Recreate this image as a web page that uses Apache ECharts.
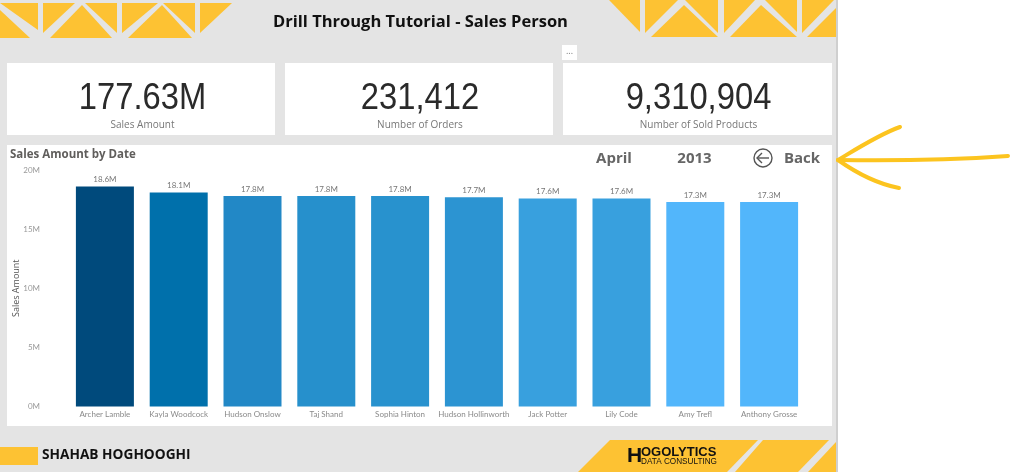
<!DOCTYPE html>
<html><head><meta charset="utf-8">
<style>html,body{margin:0;padding:0;background:#fff}#c{width:1024px;height:472px}</style>
<script src="https://cdn.jsdelivr.net/npm/echarts@6/dist/echarts.min.js"></script>
</head><body><div id="c"></div>
<script>
const categories = ['Archer Lamble','Kayla Woodcock','Hudson Onslow','Taj Shand','Sophia Hinton','Hudson Hollinworth','Jack Potter','Lily Code','Amy Trefl','Anthony Grosse'];
const salesAmount = [18.6e6,18.1e6,17.8e6,17.8e6,17.8e6,17.7e6,17.6e6,17.6e6,17.3e6,17.3e6];
const barColors = ['#004a7c','#0070ab','#2288c6','#2690cc','#2892ce','#2c94d2','#38a0de','#38a0de','#52b6fb','#52b6fb'];
const kpis = [['177.63M','Sales Amount',142.5],['231,412','Number of Orders',420],['9,310,904','Number of Sold Products',698.5]];

const Y='#fdc233', GR='#e4e4e4';
const topTris = [
 [[0,3],[38,3],[38,30]],[[0,10],[30,38],[0,38]],
 [[43,3],[75,3],[43,33]],[[50,38],[82,5],[112,38]],[[85,3],[117,3],[117,33]],
 [[122,3],[158,3],[122,33]],[[128,38],[162,5],[192,38]],[[163,3],[195,3],[195,33]],
 [[200,3],[232,3],[200,33]],
 [[609,0],[640,0],[640,32]],[[645,0],[678,0],[645,33]],[[651,37],[684,5],[718,37]],
 [[685,0],[718,0],[718,33]],[[724,0],[755,0],[724,33]],[[730,37],[761,5],[797,37]],
 [[765,0],[797,0],[797,32]],[[802,0],[834,0],[802,33]],[[807,37],[836,8],[836,37]],
 [[578,472],[610,440],[758,440],[727,472]],[[735,472],[763,440],[829,440],[798,472]],[[808,472],[836,442],[836,472]]
];
const g=[];
const rect=(x,y,w,h,fill)=>g.push({type:'rect',shape:{x,y,width:w,height:h},style:{fill},silent:true});
const text=(x,y,t,font,fill,align,sx)=>g.push({type:'text',x,y,scaleX:sx||1,style:{text:t,font,fill,align:align||'center',verticalAlign:'middle'},silent:true});
rect(0,0,836,472,GR); rect(836,0,2,472,'#cfcfcf');
topTris.forEach(p=>g.push({type:'polygon',shape:{points:p},style:{fill:Y},silent:true}));
rect(7,63,268,72,'#fff'); rect(285,63,268,72,'#fff'); rect(563,63,269,72,'#fff');
rect(7,145,825,281,'#fff'); rect(562,45,15,15,'#fff');
text(569.5,51,'...','9px "Open Sans"','#777');
kpis.forEach(k=>{text(k[2],98.5,k[0],'37px "Liberation Sans"','#2a2a2a','center',0.885);text(k[2],125,k[1],'10px "Open Sans"','#777');});
text(420.5,22,'Drill Through Tutorial - Sales Person','bold 16.5px "Open Sans"','#111');
text(10,155,'Sales Amount by Date','bold 11.5px "Open Sans"','#605e5c','left');
text(614,159,'April','bold 15px "Open Sans"','#666');
text(694.5,159,'2013','bold 15px "Open Sans"','#666');
text(802,159,'Back','bold 15px "Open Sans"','#666');
g.push({type:'circle',shape:{cx:763,cy:158,r:9},style:{fill:'none',stroke:'#555',lineWidth:1.4},silent:true});
g.push({type:'polyline',shape:{points:[[769,158],[757.5,158]]},style:{fill:'none',stroke:'#555',lineWidth:1.4},silent:true});
g.push({type:'polyline',shape:{points:[[762,153],[757,158],[762,163]]},style:{fill:'none',stroke:'#555',lineWidth:1.4},silent:true});
rect(0,447,38,18,Y);
text(42,455.5,'SHAHAB HOGHOOGHI','bold 13.7px "Open Sans"','#111','left');
text(627,456,'H','bold 21px "Liberation Sans"','#111','left');
text(641,452,'OGOLYTICS','bold 13px "Liberation Sans"','#111','left');
text(641,462,'DATA CONSULTING','8.2px "Liberation Sans"','#111','left');
const ar=(x2,y2,c1x,c1y,c2x,c2y)=>g.push({type:'bezierCurve',shape:{x1:838,y1:160,x2,y2,cpx1:c1x,cpy1:c1y,cpx2:c2x,cpy2:c2y},style:{fill:'none',stroke:'#fcc41f',lineWidth:4,lineCap:'round'},silent:true});
ar(1008,156,900,161,950,160);
ar(900,127,858,148,880,134);
ar(899,188,855,172,878,184);

const chart=echarts.init(document.getElementById('c'),null,{renderer:'canvas'});
chart.setOption({
 animation:false,
 graphic:{elements:g},
 grid:{left:68,right:218,top:170,bottom:65.5,outerBoundsMode:'none'},
 xAxis:{type:'category',data:categories,axisLine:{show:false},axisTick:{show:false},
  axisLabel:{interval:0,fontFamily:'Lato',fontSize:8,color:'#8a8a8a',margin:4}},
 yAxis:{type:'value',min:0,max:20e6,interval:5e6,splitLine:{show:false},axisLine:{show:false},axisTick:{show:false},
  axisLabel:{fontFamily:'Lato',fontSize:8,color:'#999',margin:28,formatter:v=>(v/1e6)+'M'},
  name:'Sales Amount',nameLocation:'middle',nameGap:47,nameMoveOverlap:false,nameTextStyle:{fontFamily:'Open Sans',fontSize:9,color:'#555'}},
 series:[{type:'bar',barWidth:58,
  data:salesAmount.map((v,i)=>({value:v,itemStyle:{color:barColors[i]}})),
  label:{show:true,position:'top',distance:3,fontFamily:'Lato',fontSize:8,color:'#777',formatter:p=>(p.value/1e6).toFixed(1)+'M'}}]
});
</script></body></html>
